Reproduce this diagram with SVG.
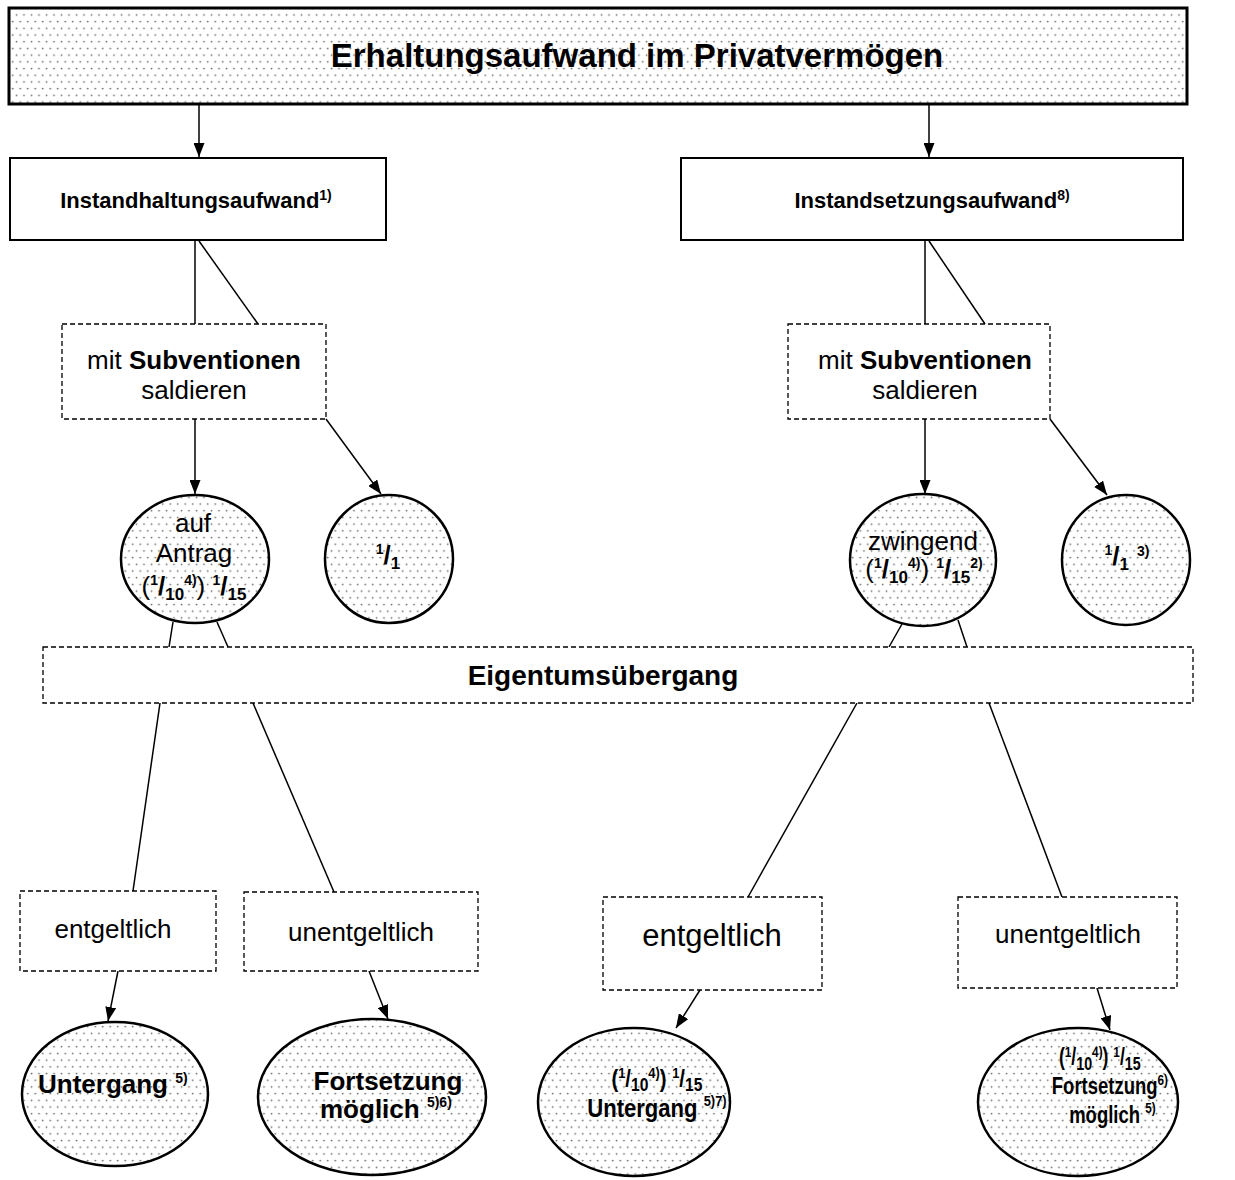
<svg xmlns="http://www.w3.org/2000/svg" width="1235" height="1180" viewBox="0 0 1235 1180">
<style>
text{font-family:"Liberation Sans",Arial,sans-serif;fill:#000}
.b{font-weight:bold}
.solid{fill:#fff;stroke:#000;stroke-width:2}
.dash{fill:#fff;stroke:#000;stroke-width:1.3;stroke-dasharray:5 3}
.dot{fill:url(#dots);stroke:#000;stroke-width:2.5}
.con{stroke:#000;stroke-width:1.5;fill:none}
.arr{marker-end:url(#ah)}
.sup{font-size:14px;font-weight:bold}
.sub{font-size:17px;font-weight:bold}
.sl{font-weight:bold}
</style>
<defs>
<pattern id="dots" width="7.5" height="13.4" patternUnits="userSpaceOnUse">
<rect width="7.5" height="13.4" fill="#fff"/>
<circle cx="1.5" cy="1.5" r="0.9" fill="#666"/>
<circle cx="5.25" cy="8.2" r="0.9" fill="#666"/>
</pattern>
<marker id="ah" viewBox="0 0 14 11" refX="14" refY="5.5" markerWidth="14" markerHeight="11" markerUnits="userSpaceOnUse" orient="auto">
<path d="M0,0 L14,5.5 L0,11 z" fill="#000"/>
</marker>
</defs>

<g id="connectors">
<line class="con arr" x1="199" y1="104" x2="199" y2="157"/>
<line class="con arr" x1="929" y1="104" x2="929" y2="157"/>
<line class="con" x1="195" y1="241" x2="195" y2="324"/>
<line class="con" x1="199" y1="241" x2="258" y2="324"/>
<line class="con" x1="925" y1="241" x2="925" y2="324"/>
<line class="con" x1="929" y1="241" x2="985" y2="324"/>
<line class="con arr" x1="195" y1="419" x2="195" y2="494"/>
<line class="con arr" x1="326" y1="419" x2="381" y2="494"/>
<line class="con arr" x1="925" y1="419" x2="925" y2="494"/>
<line class="con arr" x1="1050" y1="419" x2="1107" y2="495"/>
<line class="con" x1="173" y1="622" x2="169" y2="647"/>
<line class="con" x1="217" y1="622" x2="228" y2="647"/>
<line class="con" x1="902" y1="624" x2="889" y2="647"/>
<line class="con" x1="958" y1="620" x2="967" y2="647"/>
<line class="con" x1="160" y1="703" x2="133" y2="891"/>
<line class="con" x1="253" y1="703" x2="334" y2="892"/>
<line class="con" x1="857" y1="703" x2="748" y2="897"/>
<line class="con" x1="989" y1="703" x2="1062" y2="897"/>
<line class="con arr" x1="118" y1="971" x2="108" y2="1021"/>
<line class="con arr" x1="369" y1="971" x2="388" y2="1019"/>
<line class="con arr" x1="700" y1="990" x2="676" y2="1028"/>
<line class="con arr" x1="1097" y1="988" x2="1110" y2="1030"/>
</g>

<g id="banner">
<rect x="9" y="8" width="1178" height="96" fill="url(#dots)" stroke="#000" stroke-width="3"/>
<text x="637" y="67" class="b" font-size="33" text-anchor="middle">Erhaltungsaufwand im Privatvermögen</text>
</g>

<g id="instandhaltung">
<rect class="solid" x="10" y="158" width="376" height="82"/>
<text x="196" y="208" class="b" font-size="22" text-anchor="middle">Instandhaltungsaufwand<tspan class="sup" dy="-8">1)</tspan></text>
</g>

<g id="instandsetzung">
<rect class="solid" x="681" y="158" width="502" height="82"/>
<text x="932" y="208" class="b" font-size="22" text-anchor="middle">Instandsetzungsaufwand<tspan class="sup" dy="-8">8)</tspan></text>
</g>

<g id="subv-left">
<rect class="dash" x="62" y="324" width="264" height="95"/>
<text x="194" y="369" font-size="26" text-anchor="middle">mit <tspan class="b">Subventionen</tspan></text>
<text x="194" y="399" font-size="26" text-anchor="middle">saldieren</text>
</g>

<g id="subv-right">
<rect class="dash" x="788" y="324" width="262" height="95"/>
<text x="925" y="369" font-size="26" text-anchor="middle">mit <tspan class="b">Subventionen</tspan></text>
<text x="925" y="399" font-size="26" text-anchor="middle">saldieren</text>
</g>

<g id="auf-antrag">
<ellipse class="dot" cx="195" cy="559" rx="74" ry="64"/>
<text x="193" y="532" font-size="26" text-anchor="middle">auf</text>
<text x="194" y="562" font-size="26" text-anchor="middle">Antrag</text>
<text x="194" y="595" font-size="26" text-anchor="middle">(<tspan class="sup" dy="-10">1</tspan><tspan class="sl" dy="10">/</tspan><tspan class="sub" dy="5">10</tspan><tspan class="sup" dy="-15">4)</tspan><tspan dy="10">)</tspan> <tspan class="sup" dy="-10">1</tspan><tspan class="sl" dy="10">/</tspan><tspan class="sub" dy="5">15</tspan></text>
</g>

<g id="eins-left">
<ellipse class="dot" cx="389" cy="559" rx="64" ry="64"/>
<text x="388" y="564" font-size="26" class="b" text-anchor="middle"><tspan class="sup" dy="-10">1</tspan><tspan dy="10">/</tspan><tspan class="sub" dy="5">1</tspan></text>
</g>

<g id="zwingend">
<ellipse class="dot" cx="923" cy="560" rx="73" ry="66"/>
<text x="923" y="550" font-size="26" text-anchor="middle">zwingend</text>
<text x="924" y="578" font-size="26" text-anchor="middle">(<tspan class="sup" dy="-10">1</tspan><tspan class="sl" dy="10">/</tspan><tspan class="sub" dy="5">10</tspan><tspan class="sup" dy="-15">4)</tspan><tspan dy="10">)</tspan> <tspan class="sup" dy="-10">1</tspan><tspan class="sl" dy="10">/</tspan><tspan class="sub" dy="5">15</tspan><tspan class="sup" dy="-15">2)</tspan></text>
</g>

<g id="eins-right">
<ellipse class="dot" cx="1126" cy="560" rx="64" ry="65"/>
<text x="1127" y="565" font-size="26" class="b" text-anchor="middle"><tspan class="sup" dy="-10">1</tspan><tspan dy="10">/</tspan><tspan class="sub" dy="5">1</tspan><tspan class="sup" dy="-14" dx="8">3)</tspan></text>
</g>

<g id="eigentum">
<rect class="dash" x="43" y="647" width="1150" height="56"/>
<text x="603" y="685" class="b" font-size="28" text-anchor="middle">Eigentumsübergang</text>
</g>

<g id="entg-left">
<rect class="dash" x="20" y="891" width="196" height="80"/>
<text x="113" y="938" font-size="26" text-anchor="middle">entgeltlich</text>
</g>

<g id="unentg-left">
<rect class="dash" x="244" y="892" width="234" height="79"/>
<text x="361" y="941" font-size="26" text-anchor="middle">unentgeltlich</text>
</g>

<g id="entg-right">
<rect class="dash" x="603" y="897" width="219" height="93"/>
<text x="712" y="946" font-size="31" text-anchor="middle">entgeltlich</text>
</g>

<g id="unentg-right">
<rect class="dash" x="958" y="897" width="219" height="91"/>
<text x="1068" y="943" font-size="26" text-anchor="middle">unentgeltlich</text>
</g>

<g id="untergang-left">
<ellipse class="dot" cx="115" cy="1094" rx="93" ry="72"/>
<text x="38" y="1093" class="b" font-size="26">Untergang <tspan class="sup" dy="-10">5)</tspan></text>
</g>

<g id="fortsetzung-left">
<ellipse class="dot" cx="372" cy="1097" rx="114" ry="78"/>
<text x="388" y="1090" class="b" font-size="26" text-anchor="middle">Fortsetzung</text>
<text x="320" y="1118" class="b" font-size="26">möglich <tspan class="sup" dy="-11">5)6)</tspan></text>
</g>

<g id="untergang-right">
<ellipse class="dot" cx="634" cy="1102" rx="96" ry="74"/>
<g transform="translate(656,1100) scale(0.92,1.08) translate(-656,-1100)">
<text x="657" y="1088" font-size="22" class="b" text-anchor="middle">(<tspan class="sup" dy="-8" font-size="13">1</tspan><tspan dy="8">/</tspan><tspan class="sub" dy="4" font-size="15">10</tspan><tspan class="sup" dy="-12" font-size="13">4)</tspan><tspan dy="8">)</tspan> <tspan class="sup" dy="-8" font-size="13">1</tspan><tspan dy="8">/</tspan><tspan class="sub" dy="4" font-size="15">15</tspan></text>
<text x="657" y="1116" class="b" font-size="24" text-anchor="middle">Untergang <tspan class="sup" dy="-10" font-size="13">5)7)</tspan></text>
</g>
</g>

<g id="fortsetzung-right">
<ellipse class="dot" cx="1078" cy="1102" rx="100" ry="74"/>
<g transform="translate(1104,1094) scale(0.84,1.1) translate(-1104,-1094)">
<text x="1099" y="1068" font-size="21" class="b" text-anchor="middle">(<tspan class="sup" dy="-8" font-size="12">1</tspan><tspan dy="8">/</tspan><tspan class="sub" dy="4" font-size="14">10</tspan><tspan class="sup" dy="-12" font-size="12">4)</tspan><tspan dy="8">)</tspan> <tspan class="sup" dy="-8" font-size="12">1</tspan><tspan dy="8">/</tspan><tspan class="sub" dy="4" font-size="14">15</tspan></text>
<text x="1111" y="1094" class="b" font-size="22" text-anchor="middle">Fortsetzung<tspan class="sup" dy="-8" font-size="12">6)</tspan></text>
<text x="1114" y="1120" class="b" font-size="22" text-anchor="middle">möglich <tspan class="sup" dy="-9" font-size="12">5)</tspan></text>
</g>
</g>
</svg>
